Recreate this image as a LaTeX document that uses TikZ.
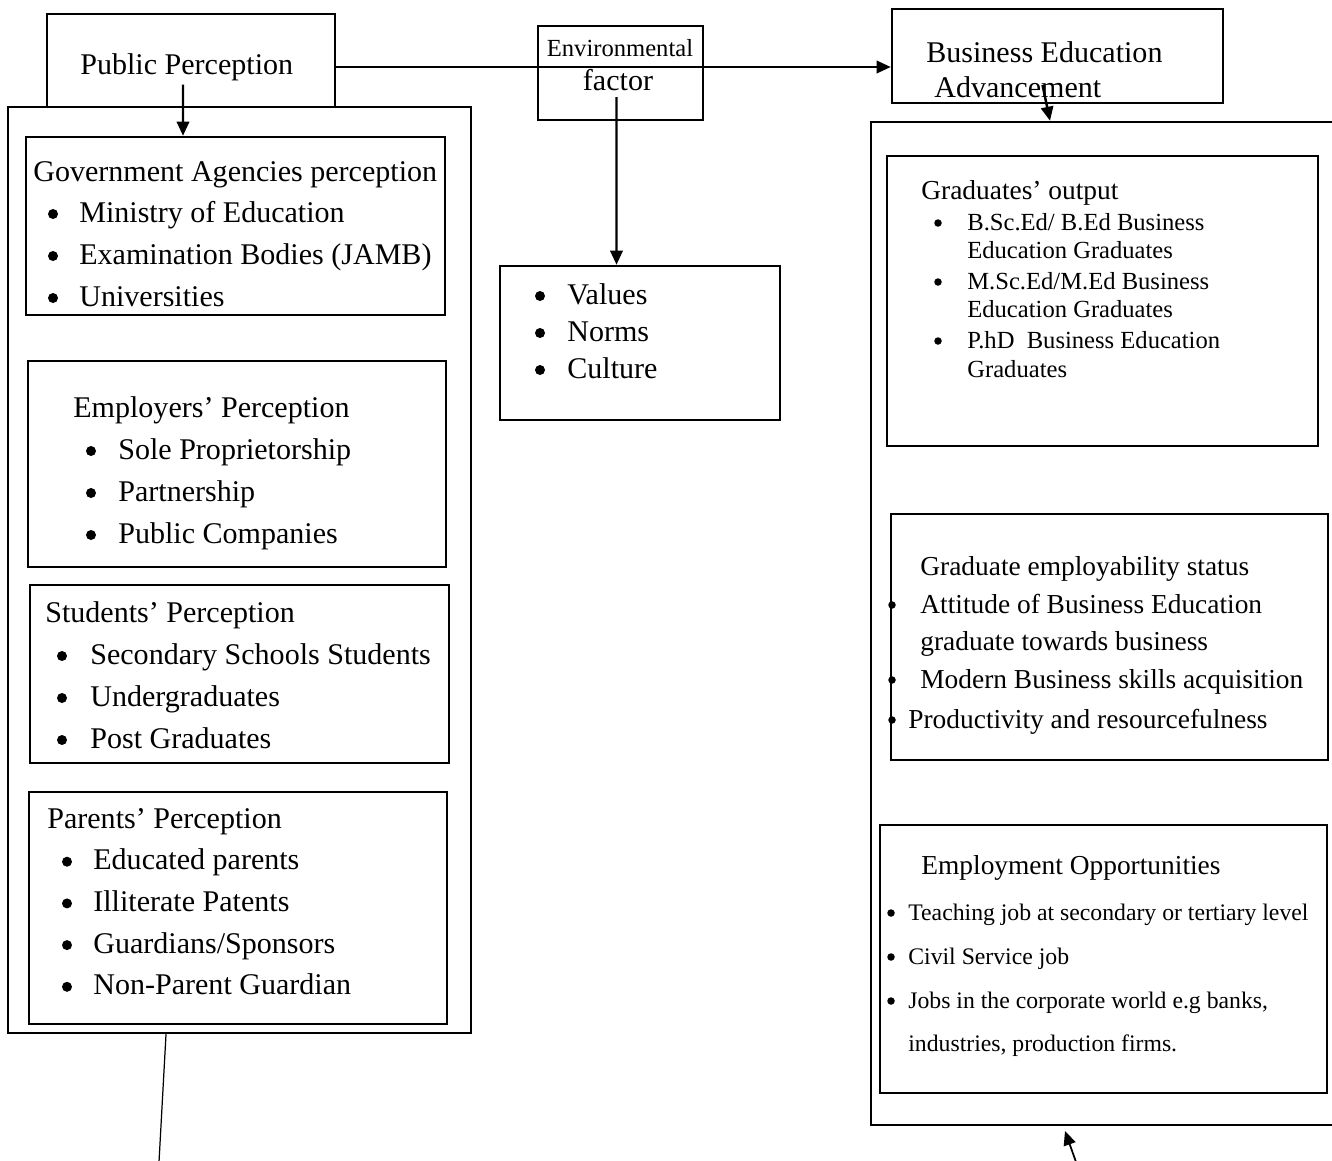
\documentclass[tikz,border=0pt]{standalone}
\usepackage{fontspec}
\setmainfont{Liberation Serif}
\usetikzlibrary{arrows.meta}
\usetikzlibrary{fit}

\begin{document}
\begin{tikzpicture}[x=0.02cm,y=-0.02cm]
	\tikzstyle{box}=[draw,line width=1.4pt,inner sep=0pt]
	\tikzstyle{txt}=[anchor=base west,inner sep=0pt,font=\fontsize{17.1}{20}\selectfont]
	\tikzstyle{bul}=[circle,fill,inner sep=0pt,minimum size=0.2cm]
	\tikzstyle{sbul}=[bul,minimum size=0.15cm]
	\tikzstyle{md}=[font=\fontsize{15.6}{18}\selectfont]
	\tikzstyle{sm}=[font=\fontsize{14}{16}\selectfont]
	\tikzstyle{xs}=[font=\fontsize{13.5}{16}\selectfont]
	\tikzstyle{arr}=[-{Triangle[length=8pt,width=7pt]},line width=1.4pt]
	\useasboundingbox (0,0) rectangle (1332,1160);

	% boxes
	\node[box,fit={(47,14) (335,107)}] (pp) {};
	\node[box,fit={(8,107) (471,1033)}] (lout) {};
	\node[box,fit={(538,26) (703,120)}] (env) {};
	\node[box,fit={(892,9) (1223,103)}] (bea) {};
	\node[box,fit={(871,122) (1345,1125)}] (rout) {};
	\node[box,fit={(26,137) (445,315)}] (gov) {};
	\node[box,fit={(28,361) (446,567)}] (emp) {};
	\node[box,fit={(30,585) (449,763)}] (stu) {};
	\node[box,fit={(29,792) (447,1024)}] (par) {};
	\node[box,fit={(500,266) (780,420)}] (val) {};
	\node[box,fit={(887,156) (1318,446)}] (grad) {};
	\node[box,fit={(891,514) (1328,760)}] (stat) {};
	\node[box,fit={(880,825) (1327,1093)}] (job) {};

	% top labels
	\node[txt] (ppT) at (80,74) {Public Perception};
	\node[txt,sm,anchor=base] (envT) at (620,56) {Environmental};
	\node[txt,anchor=base] (envF) at (618,90) {factor};
	\node[txt] (beaT) at (926,62) {Business Education};
	\node[txt] (beaA) at (934,97) {Advancement};

	% left column
	\node[txt] (govT) at (33,181) {Government Agencies perception};
	\foreach \t [count=\i] in {Ministry of Education, Examination Bodies (JAMB), Universities}{
		\node[bul] (govB\i) at (53,172+42*\i) {};
		\node[txt] (gov\i) at (79,180+42*\i) {\t};
	}
	\node[txt] (empT) at (73,417) {Employers’ Perception};
	\foreach \t [count=\i] in {Sole Proprietorship, Partnership, Public Companies}{
		\node[bul] (empB\i) at (91,409+42*\i) {};
		\node[txt] (emp\i) at (118,417+42*\i) {\t};
	}
	\node[txt] (stuT) at (45,622) {Students’ Perception};
	\foreach \t [count=\i] in {Secondary Schools Students, Undergraduates, Post Graduates}{
		\node[bul] (stuB\i) at (62,614+42*\i) {};
		\node[txt] (stu\i) at (90,622+42*\i) {\t};
	}
	\node[txt] (parT) at (47,828) {Parents’ Perception};
	\foreach \t [count=\i] in {Educated parents, Illiterate Patents, Guardians/Sponsors, Non-Parent Guardian}{
		\node[bul] (parB\i) at (67,820+41.7*\i) {};
		\node[txt] (par\i) at (93,828+41.7*\i) {\t};
	}

	% middle
	\foreach \t [count=\i] in {Values, Norms, Culture}{
		\node[bul] (valB\i) at (540,259+37*\i) {};
		\node[txt] (val\i) at (567,267+37*\i) {\t};
	}

	% right column
	\node[txt,md] (gradT) at (921,199) {Graduates’ output};
	\node[sbul] (gradB1) at (938,223) {};
	\node[txt,sm] (grad1) at (967,230) {B.Sc.Ed/ B.Ed Business};
	\node[txt,sm] (grad1b) at (967,258) {Education Graduates};
	\node[sbul] (gradB2) at (938,282) {};
	\node[txt,sm] (grad2) at (967,289) {M.Sc.Ed/M.Ed Business};
	\node[txt,sm] (grad2b) at (967,317) {Education Graduates};
	\node[sbul] (gradB3) at (938,341) {};
	\node[txt,sm] (grad3) at (967,348) {P.hD\ \ Business Education};
	\node[txt,sm] (grad3b) at (967,377) {Graduates};

	\node[txt,md] (statT) at (920,575) {Graduate employability status};
	\node[sbul] (statB1) at (892,605) {};
	\node[txt,md] (stat1) at (920,613) {Attitude of Business Education};
	\node[txt,md] (stat1b) at (920,650) {graduate towards business};
	\node[sbul] (statB2) at (892,680) {};
	\node[txt,md] (stat2) at (920,688) {Modern Business skills acquisition};
	\node[sbul] (statB3) at (892,720) {};
	\node[txt,md] (stat3) at (908,728) {Productivity and resourcefulness};

	\node[txt,md] (jobT) at (921,874) {Employment Opportunities};
	\foreach \t [count=\i] in {Teaching job at secondary or tertiary level, Civil Service job, {Jobs in the corporate world e.g banks,}}{
		\node[sbul] (jobB\i) at (891,869+44*\i) {};
		\node[txt,xs] (job\i) at (908,876+44*\i) {\t};
	}
	\node[txt,xs] (job3b) at (908,1051) {industries, production firms.};

	% connectors
	\draw[arr] ([yshift=-0.13cm]pp.east) -- ([yshift=-0.13cm]pp.east -| bea.west);
	\draw[arr] ([shift={(-8,24)}]pp.center) -- ([xshift=-0.16cm]pp.center |- gov.north);
	\draw[arr] ([shift={(-4,24)}]env.center) -- ([xshift=-0.08cm]env.center |- val.north);
	\draw[arr] ([shift={(-15,29)}]bea.center) -- ([xshift=-0.15cm]bea.center |- rout.north);
	\coordinate (lend) at (159,1162);
	\draw[line width=0.7pt] ([xshift=-1.47cm]lout.south) -- (lend);
	\coordinate (rtail) at (1076,1162);
	\coordinate (rtip) at (1065,1131);
	\draw[arr,line width=1pt] (rtail) -- (rtip);
\end{tikzpicture}
\end{document}
